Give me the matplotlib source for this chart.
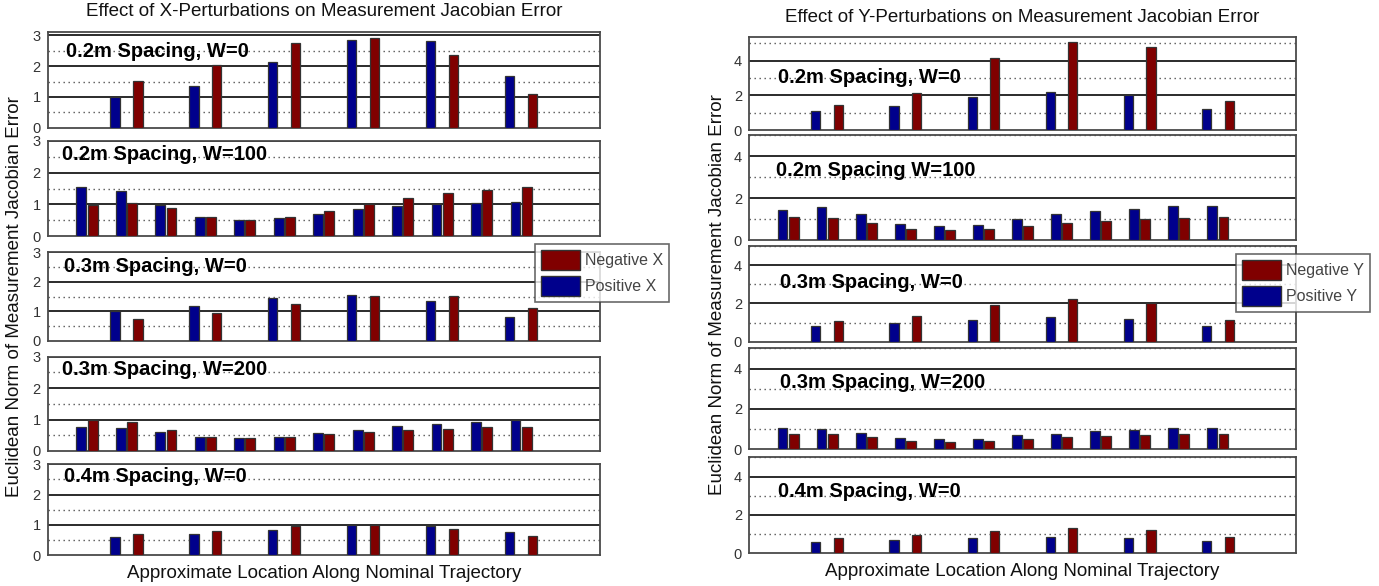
import matplotlib
matplotlib.use("Agg")
import matplotlib.pyplot as plt
from matplotlib.patches import Patch
import numpy as np

plt.rcParams['font.family'] = ['Liberation Sans', 'DejaVu Sans']

# ---------------- data ----------------
groups12 = list(range(1, 13))
groups6 = [2, 4, 6, 8, 10, 12]

panel_labels_x = ["0.2m Spacing, W=0", "0.2m Spacing, W=100", "0.3m Spacing, W=0",
                  "0.3m Spacing, W=200", "0.4m Spacing, W=0"]
panel_labels_y = ["0.2m Spacing, W=0", "0.2m Spacing W=100", "0.3m Spacing, W=0",
                  "0.3m Spacing, W=200", "0.4m Spacing, W=0"]

x_w0_02_pos = [1.00, 1.34, 2.13, 2.86, 2.83, 1.67]
x_w0_02_neg = [1.52, 2.03, 2.76, 2.91, 2.35, 1.10]
x_w100_02_pos = [1.54, 1.41, 0.99, 0.59, 0.52, 0.56, 0.71, 0.86, 0.95, 1.01, 1.04, 1.08]
x_w100_02_neg = [0.99, 1.04, 0.89, 0.59, 0.52, 0.59, 0.80, 1.01, 1.20, 1.36, 1.45, 1.54]
x_w0_03_pos = [1.03, 1.20, 1.46, 1.56, 1.34, 0.81]
x_w0_03_neg = [0.76, 0.94, 1.24, 1.52, 1.52, 1.10]
x_w200_03_pos = [0.77, 0.74, 0.62, 0.44, 0.41, 0.44, 0.57, 0.68, 0.81, 0.87, 0.92, 1.00]
x_w200_03_neg = [1.00, 0.92, 0.68, 0.44, 0.41, 0.44, 0.53, 0.62, 0.68, 0.71, 0.77, 0.77]
x_w0_04_pos = [0.60, 0.69, 0.84, 1.00, 0.96, 0.76]
x_w0_04_neg = [0.71, 0.81, 0.96, 1.00, 0.88, 0.63]

y_w0_02_pos = [1.09, 1.36, 1.93, 2.22, 2.01, 1.21]
y_w0_02_neg = [1.47, 2.11, 4.17, 5.09, 4.80, 1.65]
y_w100_02_pos = [1.45, 1.55, 1.26, 0.74, 0.65, 0.70, 1.00, 1.22, 1.36, 1.50, 1.60, 1.64]
y_w100_02_neg = [1.08, 1.03, 0.79, 0.52, 0.47, 0.52, 0.65, 0.79, 0.90, 1.00, 1.03, 1.08]
y_w0_03_pos = [0.80, 0.96, 1.15, 1.30, 1.20, 0.83]
y_w0_03_neg = [1.10, 1.34, 1.91, 2.23, 2.02, 1.15]
y_w200_03_pos = [1.06, 1.01, 0.83, 0.54, 0.50, 0.50, 0.69, 0.78, 0.93, 0.98, 1.06, 1.06]
y_w200_03_neg = [0.78, 0.74, 0.59, 0.40, 0.35, 0.40, 0.50, 0.59, 0.64, 0.69, 0.74, 0.78]
y_w0_04_pos = [0.59, 0.70, 0.80, 0.85, 0.80, 0.64]
y_w0_04_neg = [0.80, 0.96, 1.17, 1.32, 1.20, 0.85]

x_pos = [x_w0_02_pos, x_w100_02_pos, x_w0_03_pos, x_w200_03_pos, x_w0_04_pos]
x_neg = [x_w0_02_neg, x_w100_02_neg, x_w0_03_neg, x_w200_03_neg, x_w0_04_neg]
y_pos = [y_w0_02_pos, y_w100_02_pos, y_w0_03_pos, y_w200_03_pos, y_w0_04_pos]
y_neg = [y_w0_02_neg, y_w100_02_neg, y_w0_03_neg, y_w200_03_neg, y_w0_04_neg]

BLUE = '#00008c'
RED = '#800000'
W, H = 1379, 586

fig = plt.figure(figsize=(W / 100, H / 100), dpi=100)

# panel geometry in pixels (top, bottom)
left_x = (47.5, 600)
right_x = (749, 1296)
left_rows = [(32.3, 127.7), (141, 236), (252.3, 341), (356.7, 451), (464.3, 555.3)]
right_rows = [(36.5, 130), (135, 240), (246, 341.7), (348.3, 449.3), (457.3, 553.3)]
left_ylim = [3.1, 3, 3, 3, 3]
right_ylim = [5.4, 5, 5, 5, 5]
left_txt_y = [0.74, 0.80, 0.775, 0.806, 0.805]
left_txt_x = [0.033, 0.027, 0.030, 0.027, 0.030]
right_txt_y = [0.50, 0.61, 0.558, 0.604, 0.59]
right_txt_x = [0.053, 0.050, 0.057, 0.057, 0.053]


def make_axes(xr, yr):
    l = xr[0] / W
    w = (xr[1] - xr[0]) / W
    b = 1 - yr[1] / H
    h = (yr[1] - yr[0]) / H
    return fig.add_axes([l, b, w, h])


def draw_panel(ax, pos, neg, ytop, major, minor, label, tx, ty):
    n = len(pos)
    if n == 12:
        xs = np.array(groups12, dtype=float)
        off, bw = 0.142, 0.25
    else:
        xs = np.array(groups6, dtype=float)
        off, bw = 0.29, 0.235
    ax.set_xlim(0, 14)
    ax.set_ylim(0, ytop)
    for m in major[1:]:
        ax.axhline(m, color='#1a1a1a', lw=1.3, zorder=1)
    for m in minor:
        ax.axhline(m, color='#555555', lw=1.0, ls=(0, (1, 2.6)), zorder=1)
    ax.bar(xs - off, pos, width=bw, color=BLUE, edgecolor='#333333', lw=0.9, zorder=3)
    ax.bar(xs + off, neg, width=bw, color=RED, edgecolor='#333333', lw=0.9, zorder=3)
    ax.set_yticks(major)
    ax.set_yticklabels([str(m) for m in major])
    ax.set_xticks([])
    ax.tick_params(axis='y', length=0, pad=5, labelsize=10.5, labelcolor='#333333')
    for sp in ax.spines.values():
        sp.set_color('#4a4a4a')
        sp.set_linewidth(1.3)
    ax.text(tx, ty, label, transform=ax.transAxes, fontsize=14.5, fontweight='bold',
            ha='left', va='baseline', color='black', zorder=5)


for i in range(5):
    ax = make_axes(left_x, left_rows[i])
    draw_panel(ax, x_pos[i], x_neg[i], left_ylim[i], [0, 1, 2, 3], [0.5, 1.5, 2.5],
               panel_labels_x[i], left_txt_x[i], left_txt_y[i])
    ax2 = make_axes(right_x, right_rows[i])
    draw_panel(ax2, y_pos[i], y_neg[i], right_ylim[i], [0, 2, 4], [1, 3, 5],
               panel_labels_y[i], right_txt_x[i], right_txt_y[i])

# titles and axis labels
fig.text(324 / W, 1 - 12 / H, "Effect of X-Perturbations on Measurement Jacobian Error",
         ha='center', va='center', fontsize=13.5, color='#111111')
fig.text(1022 / W, 1 - 17 / H, "Effect of Y-Perturbations on Measurement Jacobian Error",
         ha='center', va='center', fontsize=13.5, color='#111111')
fig.text(15 / W, 1 - 297 / H, "Euclidean Norm of Measurement Jacobian Error",
         rotation=90, ha='center', va='center', fontsize=13.5, color='#111111')
fig.text(718 / W, 1 - 295 / H, "Euclidean Norm of Measurement Jacobian Error",
         rotation=90, ha='center', va='center', fontsize=13.5, color='#111111')
fig.text(324 / W, 1 - 573 / H, "Approximate Location Along Nominal Trajectory",
         ha='center', va='center', fontsize=13.5, color='#111111')
fig.text(1022 / W, 1 - 572 / H, "Approximate Location Along Nominal Trajectory",
         ha='center', va='center', fontsize=13.5, color='#111111')

# legends
def add_legend(x0, y0, names):
    handles = [Patch(facecolor=RED, edgecolor='#333333'), Patch(facecolor=BLUE, edgecolor='#333333')]
    leg = fig.legend(handles, names, loc='upper left', bbox_to_anchor=(x0 / W, 1 - y0 / H),
                     fontsize=11.5, frameon=True, fancybox=False, handlelength=2.4,
                     handleheight=1.5, handletextpad=0.3, borderpad=0.4, labelspacing=0.4,
                     borderaxespad=0)
    leg.get_frame().set_edgecolor('#444444')
    leg.get_frame().set_linewidth(1.2)
    for t in leg.get_texts():
        t.set_color('#444444')
    return leg

add_legend(535, 244, ["Negative X", "Positive X"])
add_legend(1236, 254, ["Negative Y", "Positive Y"])

fig.savefig("out.png", dpi=100)
